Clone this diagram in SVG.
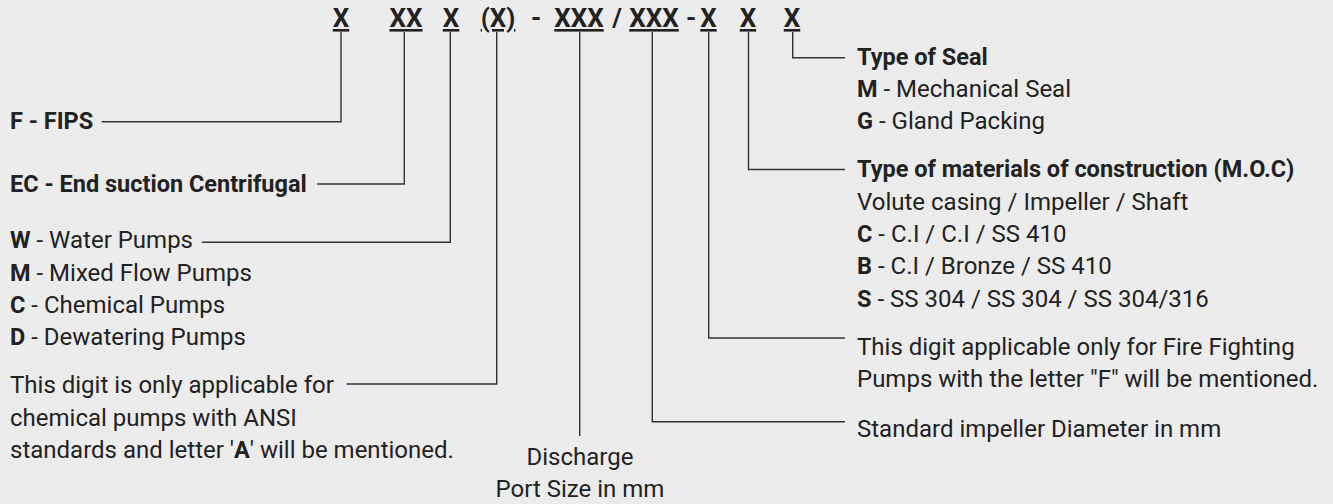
<svg xmlns="http://www.w3.org/2000/svg" width="1333" height="504" viewBox="0 0 1333 504">
<style>
text{font-family:Roboto,"Liberation Sans",sans-serif;font-size:24px;fill:#222}
.b{font-weight:bold;font-size:23.5px}
.code{font-weight:bold;font-size:26px;text-anchor:middle}
.u{text-decoration:underline}
.c{fill:none;stroke:#333;stroke-width:1.4}
</style>
<rect width="1333" height="504" fill="#ececec"/>
<g id="code">
<text class="code u" x="341" y="27">X</text>
<text class="code u" x="406" y="27">XX</text>
<text class="code u" x="451" y="27">X</text>
<text class="code u" x="498" y="27">(X)</text>
<text class="code" x="536" y="27">-</text>
<text class="code u" x="579" y="27">XXX</text>
<text class="code" x="617" y="27">/</text>
<text class="code u" x="654" y="27">XXX</text>
<text class="code" x="691" y="27">-</text>
<text class="code u" x="708.5" y="27">X</text>
<text class="code u" x="748" y="27">X</text>
<text class="code u" x="792" y="27">X</text>
</g>
<g id="connectors">
<path class="c" d="M341,32V121.7H101.7"/>
<path class="c" d="M404.3,32V184H317"/>
<path class="c" d="M450.3,32V242.3H202"/>
<path class="c" d="M496.7,32V384H346.7"/>
<path class="c" d="M579.7,32V436"/>
<path class="c" d="M652.3,32V421.7H845"/>
<path class="c" d="M708.7,32V338H845"/>
<path class="c" d="M748.5,32V169.5H845"/>
<path class="c" d="M792.7,32V57.7H845"/>
</g>
<g id="fips"><text class="b" x="10" y="129.3">F - FIPS</text></g>
<g id="ec"><text class="b" x="10" y="191.7">EC - End suction Centrifugal</text></g>
<g id="pump-type">
<text x="10" y="248.3"><tspan class="b">W</tspan> - Water Pumps</text>
<text x="10" y="281"><tspan class="b">M</tspan> - Mixed Flow Pumps</text>
<text x="10" y="312.7"><tspan class="b">C</tspan> - Chemical Pumps</text>
<text x="10" y="345"><tspan class="b">D</tspan> - Dewatering Pumps</text>
</g>
<g id="ansi">
<text x="10" y="393.3">This digit is only applicable for</text>
<text x="10" y="425.7">chemical pumps with ANSI</text>
<text x="10" y="458.3">standards and letter '<tspan class="b">A</tspan>' will be mentioned.</text>
</g>
<g id="discharge">
<text x="580" y="465" text-anchor="middle">Discharge</text>
<text x="580" y="497" text-anchor="middle">Port Size in mm</text>
</g>
<g id="impeller"><text x="857" y="436.7">Standard impeller Diameter in mm</text></g>
<g id="fire">
<text x="857" y="355">This digit applicable only for Fire Fighting</text>
<text x="857" y="386.7">Pumps with the letter "F" will be mentioned.</text>
</g>
<g id="moc">
<text class="b" x="857" y="176.7">Type of materials of construction (M.O.C)</text>
<text x="857" y="210">Volute casing / Impeller / Shaft</text>
<text x="857" y="241.7"><tspan class="b">C</tspan> - C.I / C.I / SS 410</text>
<text x="857" y="274.3"><tspan class="b">B</tspan> - C.I / Bronze / SS 410</text>
<text x="857" y="306.5"><tspan class="b">S</tspan> - SS 304 / SS 304 / SS 304/316</text>
</g>
<g id="seal">
<text class="b" x="857" y="65">Type of Seal</text>
<text x="857" y="96.7"><tspan class="b">M</tspan> - Mechanical Seal</text>
<text x="857" y="129.3"><tspan class="b">G</tspan> - Gland Packing</text>
</g>
</svg>
